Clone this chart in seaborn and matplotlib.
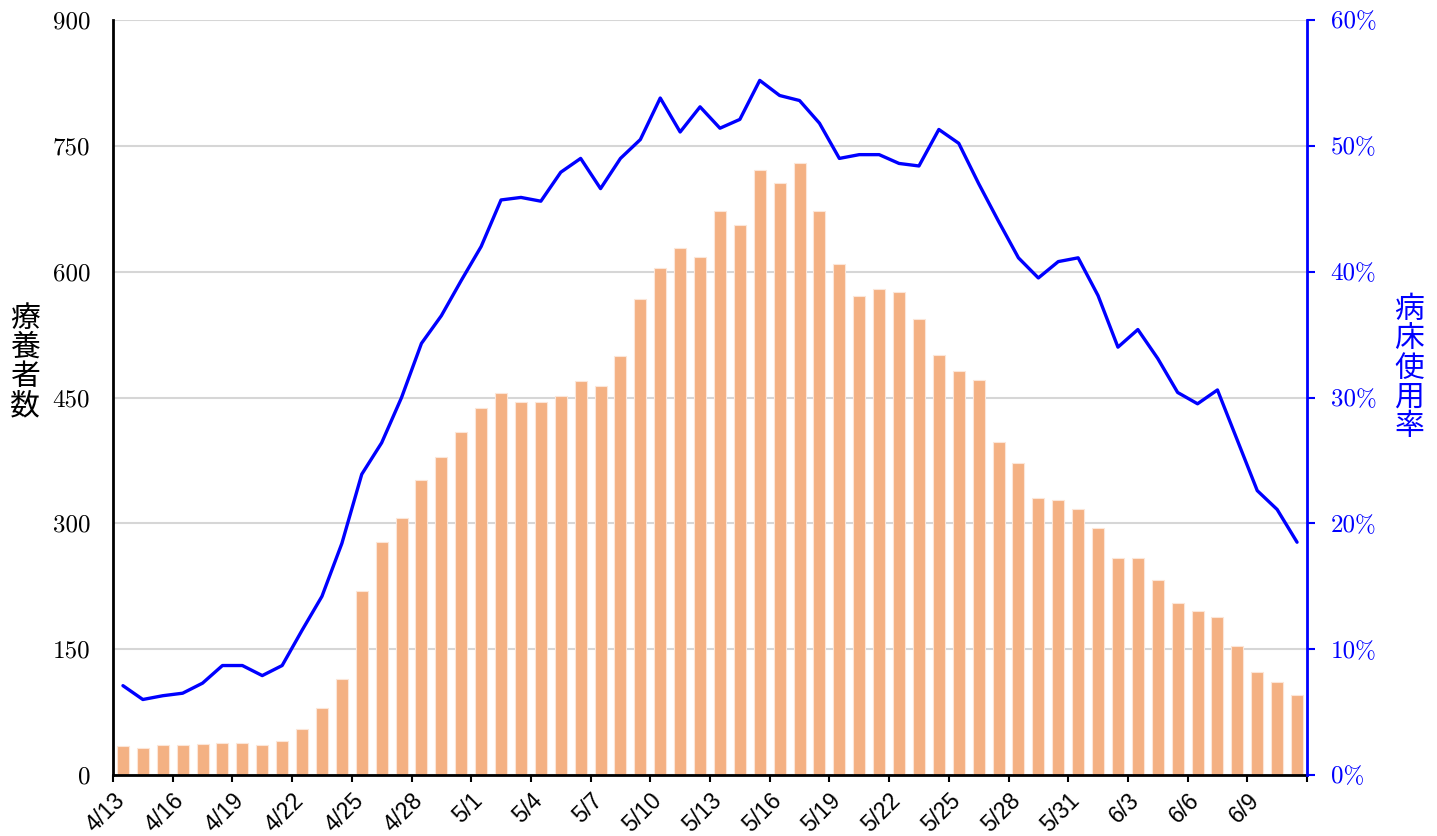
import matplotlib
matplotlib.use("Agg")
import matplotlib.pyplot as plt
import seaborn as sns
import numpy as np
import pandas as pd

# ---- data ----
dates = ["4/13", "4/14", "4/15", "4/16", "4/17", "4/18", "4/19", "4/20", "4/21", "4/22",
         "4/23", "4/24", "4/25", "4/26", "4/27", "4/28", "4/29", "4/30", "5/1", "5/2",
         "5/3", "5/4", "5/5", "5/6", "5/7", "5/8", "5/9", "5/10", "5/11", "5/12",
         "5/13", "5/14", "5/15", "5/16", "5/17", "5/18", "5/19", "5/20", "5/21", "5/22",
         "5/23", "5/24", "5/25", "5/26", "5/27", "5/28", "5/29", "5/30", "5/31", "6/1",
         "6/2", "6/3", "6/4", "6/5", "6/6", "6/7", "6/8", "6/9", "6/10", "6/11"]

patients = [35, 32, 36, 36, 37, 38, 38, 36, 40, 55,
            80, 114, 219, 278, 306, 352, 379, 409, 437, 455,
            445, 445, 452, 470, 464, 500, 567, 604, 628, 617,
            672, 656, 721, 706, 730, 672, 609, 571, 579, 576,
            544, 501, 482, 471, 397, 372, 330, 328, 317, 294,
            259, 259, 232, 205, 195, 188, 154, 123, 111, 95]

bed_rate = [7.1, 6.0, 6.3, 6.5, 7.3, 8.7, 8.7, 7.9, 8.7, 11.5,
            14.2, 18.4, 23.9, 26.4, 30.0, 34.3, 36.5, 39.3, 42.0, 45.7,
            45.9, 45.6, 47.9, 49.0, 46.6, 49.0, 50.5, 53.8, 51.1, 53.1,
            51.4, 52.1, 55.2, 54.0, 53.6, 51.8, 49.0, 49.3, 49.3, 48.6,
            48.4, 51.3, 50.2, 47.0, 44.0, 41.1, 39.5, 40.8, 41.1, 38.1,
            34.0, 35.4, 33.1, 30.4, 29.5, 30.6, 26.6, 22.6, 21.1, 18.5]

left_ticks = [0, 150, 300, 450, 600, 750, 900]
right_ticks = [0, 10, 20, 30, 40, 50, 60]
left_label = "療\n養\n者\n数"
right_label = "病\n床\n使\n用\n率"

BAR_COLOR = "#F4B183"
LINE_COLOR = "#0000FF"

sns.set_theme(style="white")
plt.rcParams["font.family"] = ["DejaVu Sans"]

df = pd.DataFrame({"date": dates, "patients": patients, "rate": bed_rate})

fig = plt.figure(figsize=(14.37, 8.36), dpi=100)
ax = fig.add_axes([113 / 1437, 1 - 775 / 836, (1307 - 113) / 1437, (775 - 20) / 836])

sns.barplot(data=df, x="date", y="patients", color=BAR_COLOR, saturation=1,
            width=0.6, edgecolor="#FCE6D8", linewidth=0.8, ax=ax, zorder=2)

ax2 = ax.twinx()
pos = np.arange(len(dates))
sns.lineplot(x=pos, y=df["rate"].to_numpy(), color=LINE_COLOR, linewidth=2.4, ax=ax2)

ax.set_xlim(-0.5, len(dates) - 0.5)
ax.set_ylim(0, 900)
ax2.set_ylim(0, 60)

# x ticks at category boundaries every 3 days
xt = np.arange(0, len(dates) + 1, 3) - 0.5
xl = dates[::3] + [""] * (len(xt) - len(dates[::3]))
ax.set_xticks(xt)
ax.set_xticklabels(xl, rotation=45, ha="right", va="top", rotation_mode="anchor",
                   fontfamily="Liberation Sans", fontsize=16.5, color="black")
ax.tick_params(axis="x", bottom=True, direction="out", length=5, width=1.5,
               color="black", pad=5)

ax.set_yticks(left_ticks)
ax.set_yticklabels([str(v) for v in left_ticks], fontfamily="cmr10", fontsize=18, color="black")
ax.tick_params(axis="y", left=False, length=0, pad=16.5)

ax2.set_yticks(right_ticks)
ax2.set_yticklabels([f"{v}%" for v in right_ticks], fontfamily="cmr10", fontsize=18, color=LINE_COLOR)
ax2.tick_params(axis="y", right=True, direction="out", length=6, width=1.5,
                color=LINE_COLOR, pad=11)

ax.set_xlabel("")
ax.set_ylabel("")
ax2.set_ylabel("")

ax.yaxis.grid(True, color="#D6D6D6", linewidth=1.5)
ax.xaxis.grid(False)
ax.set_axisbelow(True)
ax2.grid(False)

for s in ["top", "right"]:
    ax.spines[s].set_visible(False)
ax.spines["left"].set_color("black")
ax.spines["left"].set_linewidth(2)
ax.spines["bottom"].set_color("black")
ax.spines["bottom"].set_linewidth(2)
for s in ["top", "left", "bottom"]:
    ax2.spines[s].set_visible(False)
ax2.spines["right"].set_color(LINE_COLOR)
ax2.spines["right"].set_linewidth(2)

fig.text(25 / 1437, 1 - 362 / 836, left_label, ha="center", va="center",
         fontfamily=["Noto Sans CJK JP"], fontsize=21.5, color="black", linespacing=0.93)
fig.text(1409 / 1437, 1 - 368 / 836, right_label, ha="center", va="center",
         fontfamily=["Noto Sans CJK JP"], fontsize=21.5, color=LINE_COLOR, linespacing=0.93)

fig.savefig("out.png", dpi=100)
